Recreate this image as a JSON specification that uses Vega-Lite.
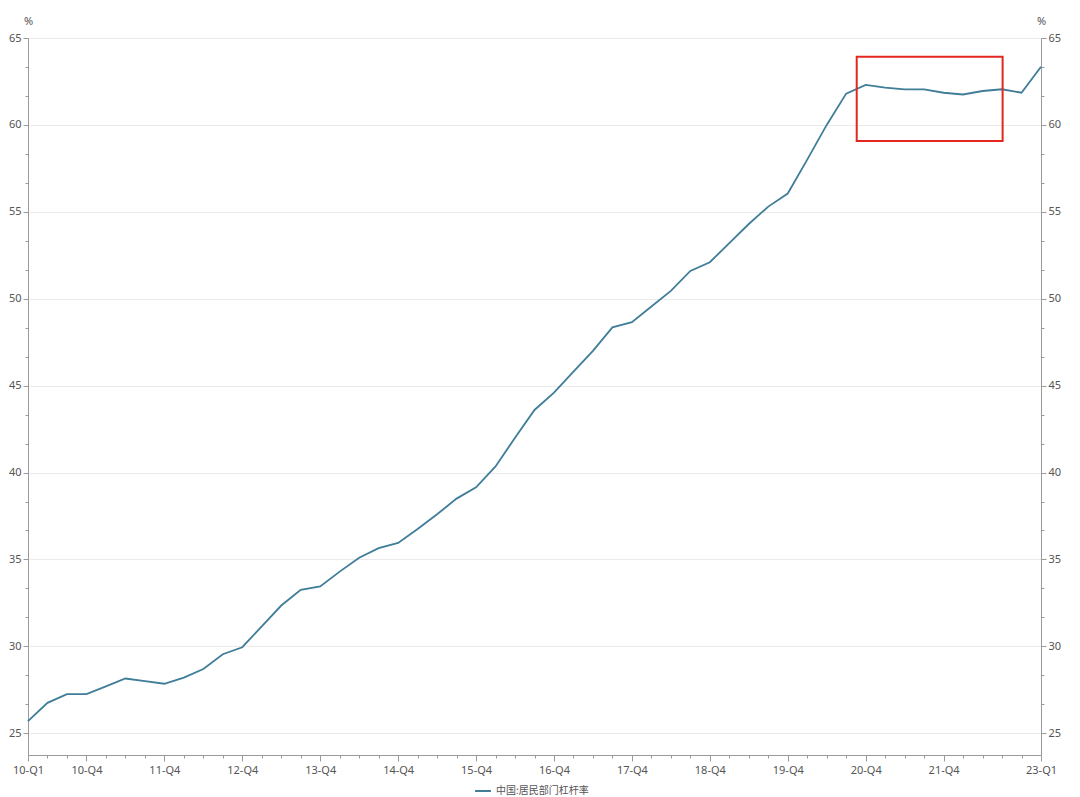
{
  "$schema": "https://vega.github.io/schema/vega-lite/v6.json",
  "width": 1013,
  "height": 717,
  "autosize": {"type": "none"},
  "padding": {"left": 28, "top": 38, "right": 39, "bottom": 42},
  "background": "white",
  "config": {
    "view": {"stroke": null},
    "font": "Noto Sans",
    "axis": {
      "domainColor": "#9a9a9a",
      "tickColor": "#9a9a9a",
      "labelColor": "#555555",
      "labelFontSize": 11,
      "titleColor": "#555555",
      "titleFontSize": 11,
      "titleFontWeight": "normal",
      "labelOverlap": false,
      "labelFlush": false
    }
  },
  "datasets": {
    "series": [
      {"i": 0, "q": "10-Q1", "v": 25.7},
      {"i": 1, "q": "10-Q2", "v": 26.75},
      {"i": 2, "q": "10-Q3", "v": 27.25},
      {"i": 3, "q": "10-Q4", "v": 27.25},
      {"i": 4, "q": "11-Q1", "v": 27.7},
      {"i": 5, "q": "11-Q2", "v": 28.15},
      {"i": 6, "q": "11-Q3", "v": 28.0},
      {"i": 7, "q": "11-Q4", "v": 27.85},
      {"i": 8, "q": "12-Q1", "v": 28.2},
      {"i": 9, "q": "12-Q2", "v": 28.7},
      {"i": 10, "q": "12-Q3", "v": 29.55},
      {"i": 11, "q": "12-Q4", "v": 29.95},
      {"i": 12, "q": "13-Q1", "v": 31.15},
      {"i": 13, "q": "13-Q2", "v": 32.35},
      {"i": 14, "q": "13-Q3", "v": 33.25},
      {"i": 15, "q": "13-Q4", "v": 33.45},
      {"i": 16, "q": "14-Q1", "v": 34.3},
      {"i": 17, "q": "14-Q2", "v": 35.1},
      {"i": 18, "q": "14-Q3", "v": 35.65},
      {"i": 19, "q": "14-Q4", "v": 35.95},
      {"i": 20, "q": "15-Q1", "v": 36.75},
      {"i": 21, "q": "15-Q2", "v": 37.6},
      {"i": 22, "q": "15-Q3", "v": 38.5},
      {"i": 23, "q": "15-Q4", "v": 39.15},
      {"i": 24, "q": "16-Q1", "v": 40.35},
      {"i": 25, "q": "16-Q2", "v": 42.0},
      {"i": 26, "q": "16-Q3", "v": 43.6},
      {"i": 27, "q": "16-Q4", "v": 44.6},
      {"i": 28, "q": "17-Q1", "v": 45.8},
      {"i": 29, "q": "17-Q2", "v": 47.0},
      {"i": 30, "q": "17-Q3", "v": 48.35},
      {"i": 31, "q": "17-Q4", "v": 48.65},
      {"i": 32, "q": "18-Q1", "v": 49.55},
      {"i": 33, "q": "18-Q2", "v": 50.45},
      {"i": 34, "q": "18-Q3", "v": 51.6},
      {"i": 35, "q": "18-Q4", "v": 52.1},
      {"i": 36, "q": "19-Q1", "v": 53.2},
      {"i": 37, "q": "19-Q2", "v": 54.3},
      {"i": 38, "q": "19-Q3", "v": 55.3},
      {"i": 39, "q": "19-Q4", "v": 56.05},
      {"i": 40, "q": "20-Q1", "v": 58.0},
      {"i": 41, "q": "20-Q2", "v": 60.0},
      {"i": 42, "q": "20-Q3", "v": 61.8},
      {"i": 43, "q": "20-Q4", "v": 62.3},
      {"i": 44, "q": "21-Q1", "v": 62.15},
      {"i": 45, "q": "21-Q2", "v": 62.05},
      {"i": 46, "q": "21-Q3", "v": 62.05},
      {"i": 47, "q": "21-Q4", "v": 61.85},
      {"i": 48, "q": "22-Q1", "v": 61.75},
      {"i": 49, "q": "22-Q2", "v": 61.95},
      {"i": 50, "q": "22-Q3", "v": 62.05},
      {"i": 51, "q": "22-Q4", "v": 61.85},
      {"i": 52, "q": "23-Q1", "v": 63.35}
    ],
    "box": [
      {"x": 42.54, "x2": 50.03, "y": 63.92, "y2": 59.07}
    ]
  },
  "layer": [
    {
      "data": {"name": "series"},
      "mark": {"type": "line", "strokeWidth": 1.8},
      "encoding": {
        "x": {
          "field": "i",
          "type": "quantitative",
          "scale": {"domain": [0, 52], "nice": false, "zero": false},
          "axis": {
            "orient": "bottom",
            "title": null,
            "values": [0,1,2,3,4,5,6,7,8,9,10,11,12,13,14,15,16,17,18,19,20,21,22,23,24,25,26,27,28,29,30,31,32,33,34,35,36,37,38,39,40,41,42,43,44,45,46,47,48,49,50,51,52],
            "labelExpr": "(datum.value == 0 || datum.value == 52 || (datum.value % 4 == 3 && datum.value <= 47)) ? ((10 + floor(datum.value / 4)) + '-Q' + (datum.value % 4 + 1)) : ''",
            "tickSize": {"condition": {"test": "datum.value == 0 || datum.value == 52 || (datum.value % 4 == 3 && datum.value <= 47)", "value": 6}, "value": 3},
            "grid": false,
            "labelPadding": 3
          }
        },
        "y": {
          "field": "v",
          "type": "quantitative",
          "scale": {"domain": [23.75, 65], "nice": false, "zero": false},
          "axis": {
            "orient": "left",
            "values": [25, 26.6667, 28.3333, 30, 31.6667, 33.3333, 35, 36.6667, 38.3333, 40, 41.6667, 43.3333, 45, 46.6667, 48.3333, 50, 51.6667, 53.3333, 55, 56.6667, 58.3333, 60, 61.6667, 63.3333, 65],
            "labelExpr": "datum.value % 5 == 0 ? format(datum.value, 'd') : ''",
            "tickSize": {"condition": {"test": "datum.value % 5 == 0", "value": 5}, "value": 3},
            "grid": true,
            "gridColor": {"condition": {"test": "datum.value % 5 == 0", "value": "#ebebeb"}, "value": "transparent"},
            "labelPadding": 2,
            "title": "%",
            "titleAngle": 0,
            "titleX": 0,
            "titleY": -12,
            "titleAlign": "center",
            "titleBaseline": "bottom"
          }
        },
        "color": {
          "datum": "中国:居民部门杠杆率",
          "type": "nominal",
          "scale": {"range": ["#3f7d98"]},
          "legend": {
            "orient": "none",
            "legendX": 446,
            "legendY": 744,
            "direction": "horizontal",
            "title": null,
            "symbolType": "stroke",
            "symbolStrokeWidth": 2,
            "symbolSize": 250,
            "labelFont": "Noto Sans CJK SC",
            "labelFontSize": 10,
            "labelColor": "#555555"
          }
        }
      }
    },
    {
      "data": {"name": "box"},
      "mark": {"type": "rect", "filled": false, "color": "#e3261e", "strokeWidth": 2},
      "encoding": {
        "x": {"field": "x", "type": "quantitative", "axis": null},
        "x2": {"field": "x2"},
        "y": {
          "field": "y",
          "type": "quantitative",
          "axis": {
            "orient": "right",
            "values": [25, 26.6667, 28.3333, 30, 31.6667, 33.3333, 35, 36.6667, 38.3333, 40, 41.6667, 43.3333, 45, 46.6667, 48.3333, 50, 51.6667, 53.3333, 55, 56.6667, 58.3333, 60, 61.6667, 63.3333, 65],
            "labelExpr": "datum.value % 5 == 0 ? format(datum.value, 'd') : ''",
            "tickSize": {"condition": {"test": "datum.value % 5 == 0", "value": 5}, "value": 3},
            "grid": false,
            "labelPadding": 2,
            "title": "%",
            "titleAngle": 0,
            "titleX": 0,
            "titleY": -12,
            "titleAlign": "center",
            "titleBaseline": "bottom"
          }
        },
        "y2": {"field": "y2"}
      }
    }
  ],
  "resolve": {"axis": {"y": "independent", "x": "independent"}}
}
